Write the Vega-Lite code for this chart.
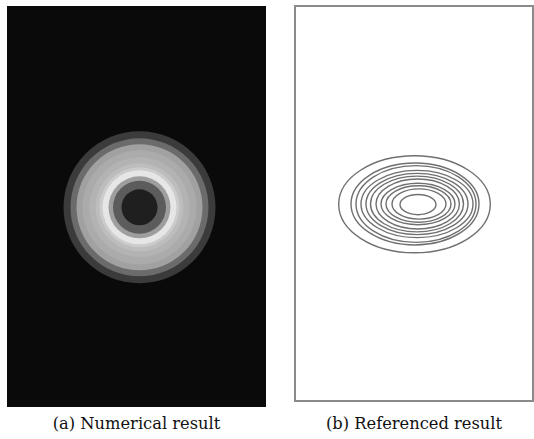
{
  "$schema": "https://vega.github.io/schema/vega-lite/v6.json",
  "background": "white",
  "padding": {"left": 7, "top": 5, "right": 0, "bottom": 0},
  "spacing": 28,
  "hconcat": [
    {
      "width": 259,
      "height": 401,
      "view": {"fill": "#0a0a0a", "stroke": null},
      "title": {"text": "(a) Numerical result", "orient": "bottom", "anchor": "middle", "baseline": "alphabetic", "offset": 22, "font": "DejaVu Serif", "fontSize": 16.3, "fontWeight": "normal", "color": "#111111"},
      "data": {"values": [
        {"ring": 1, "r": 76, "intensity": 0.23, "cx": 132.5, "cy": 199.7},
        {"ring": 2, "r": 69, "intensity": 0.42, "cx": 132.5, "cy": 199.7},
        {"ring": 3, "r": 63, "intensity": 0.63, "cx": 132.5, "cy": 199.7},
        {"ring": 4, "r": 57, "intensity": 0.67, "cx": 132.5, "cy": 199.7},
        {"ring": 5, "r": 50, "intensity": 0.70, "cx": 132.5, "cy": 199.7},
        {"ring": 6, "r": 44, "intensity": 0.74, "cx": 132.5, "cy": 199.7},
        {"ring": 7, "r": 40, "intensity": 0.80, "cx": 132.5, "cy": 199.7},
        {"ring": 8, "r": 37, "intensity": 0.90, "cx": 132.5, "cy": 199.7},
        {"ring": 9, "r": 31, "intensity": 0.62, "cx": 132.5, "cy": 199.7},
        {"ring": 10, "r": 26.5, "intensity": 0.36, "cx": 132.5, "cy": 199.7},
        {"ring": 11, "r": 18, "intensity": 0.12, "cx": 132.5, "cy": 199.7}
      ]},
      "mark": {"type": "arc", "theta": 0, "theta2": 6.2832, "strokeWidth": 0},
      "encoding": {
        "x": {"field": "cx", "type": "quantitative", "scale": {"domain": [0, 259], "nice": false, "zero": false}, "axis": null},
        "y": {"field": "cy", "type": "quantitative", "scale": {"domain": [0, 401], "nice": false, "zero": false}, "axis": null},
        "radius": {"field": "r", "type": "quantitative", "stack": null, "scale": {"type": "linear", "domain": [0, 100], "range": [0, 100], "zero": true}},
        "color": {"field": "intensity", "type": "quantitative", "scale": {"domain": [0, 1], "range": ["#000000", "#ffffff"], "interpolate": "rgb"}, "legend": null}
      }
    },
    {
      "width": 238,
      "height": 395,
      "view": {"fill": "white", "stroke": "#8a8a8a", "strokeWidth": 2},
      "title": {"text": "(b) Referenced result", "orient": "bottom", "anchor": "middle", "baseline": "alphabetic", "offset": 28, "font": "DejaVu Serif", "fontSize": 16.3, "fontWeight": "normal", "color": "#111111"},
      "data": {"values": [
        {"contour": 1, "cx": 119.5, "cy": 196.7, "rx": 75.8, "aspect": "0.64"},
        {"contour": 2, "cx": 120, "cy": 197, "rx": 64, "aspect": "0.64"},
        {"contour": 3, "cx": 121, "cy": 197, "rx": 60, "aspect": "0.64"},
        {"contour": 4, "cx": 122, "cy": 197, "rx": 56, "aspect": "0.60"},
        {"contour": 5, "cx": 122, "cy": 197, "rx": 51, "aspect": "0.60"},
        {"contour": 6, "cx": 122, "cy": 197, "rx": 46.5, "aspect": "0.60"},
        {"contour": 7, "cx": 122.7, "cy": 197, "rx": 41.7, "aspect": "0.60"},
        {"contour": 8, "cx": 123, "cy": 197, "rx": 37, "aspect": "0.56"},
        {"contour": 9, "cx": 123.5, "cy": 197, "rx": 32.5, "aspect": "0.56"},
        {"contour": 10, "cx": 124, "cy": 197, "rx": 27, "aspect": "0.56"},
        {"contour": 11, "cx": 123, "cy": 196.4, "rx": 18, "aspect": "0.56"}
      ]},
      "mark": {"type": "point", "filled": false, "stroke": "#707070", "strokeWidth": 1.4, "opacity": 1},
      "encoding": {
        "x": {"field": "cx", "type": "quantitative", "scale": {"domain": [0, 238], "nice": false, "zero": false}, "axis": null},
        "y": {"field": "cy", "type": "quantitative", "scale": {"domain": [0, 395], "nice": false, "zero": false}, "axis": null},
        "size": {"field": "rx", "type": "quantitative", "scale": {"type": "pow", "exponent": 2, "domain": [0, 100], "range": [0, 40000], "zero": true}, "legend": null},
        "shape": {"field": "aspect", "type": "nominal", "scale": {"domain": ["0.64", "0.60", "0.56"], "range": [
          "M-1,0C-1,-0.3535,-0.5523,-0.64,0,-0.64C0.5523,-0.64,1,-0.3535,1,0C1,0.3535,0.5523,0.64,0,0.64C-0.5523,0.64,-1,0.3535,-1,0Z",
          "M-1,0C-1,-0.3314,-0.5523,-0.6,0,-0.6C0.5523,-0.6,1,-0.3314,1,0C1,0.3314,0.5523,0.6,0,0.6C-0.5523,0.6,-1,0.3314,-1,0Z",
          "M-1,0C-1,-0.3093,-0.5523,-0.56,0,-0.56C0.5523,-0.56,1,-0.3093,1,0C1,0.3093,0.5523,0.56,0,0.56C-0.5523,0.56,-1,0.3093,-1,0Z"
        ]}, "legend": null}
      }
    }
  ]
}
